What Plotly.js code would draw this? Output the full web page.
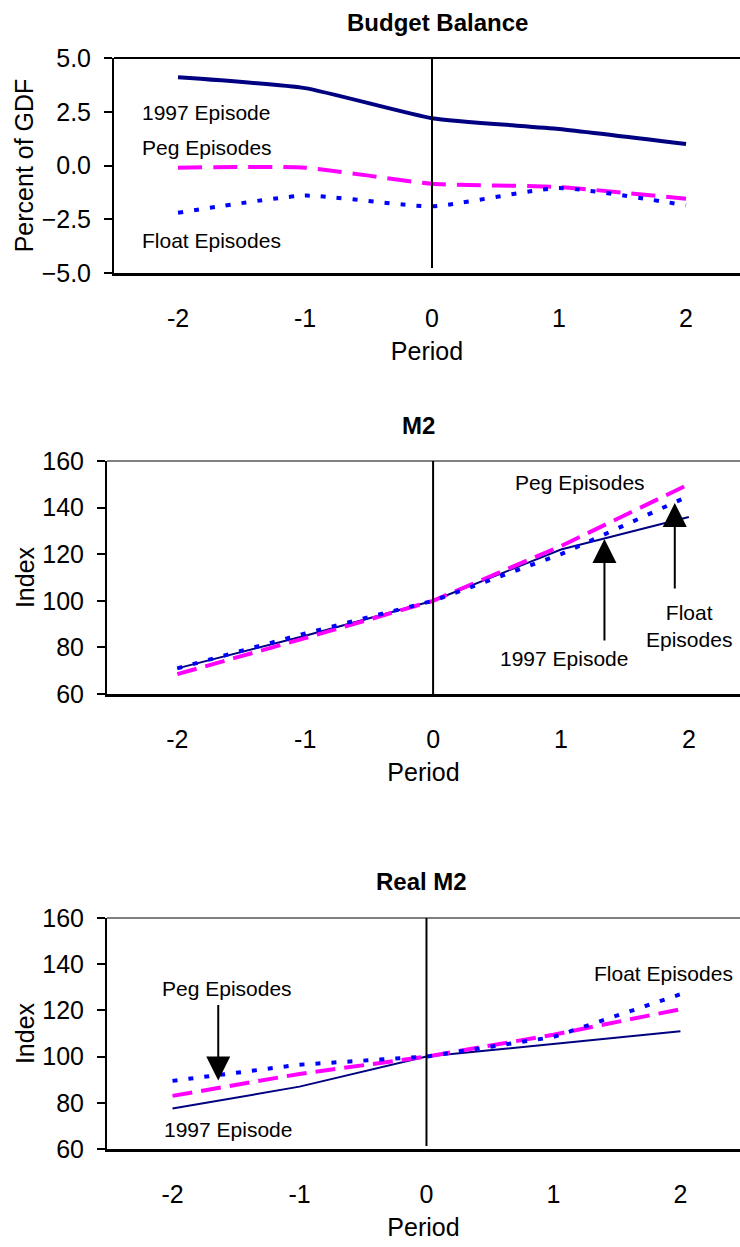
<!DOCTYPE html>
<html>
<head>
<meta charset="utf-8">
<script src="https://cdn.plot.ly/plotly-3.0.1.min.js"></script>
<style>html,body{margin:0;padding:0;background:#fff;}#chart{width:740px;height:1247px;}</style>
</head>
<body>
<div id="chart"></div>
<script>
// ---- data ----
const periods = [-2, -1, 0, 1, 2];
const periodLabels = ["-2", "-1", "0", "1", "2"];
const seriesNames = ["1997 Episode", "Peg Episodes", "Float Episodes"];

const budget1997 = [4.1, 3.6, 2.2, 1.7, 1.0];
const budgetPeg = [-0.1, -0.1, -0.85, -1.0, -1.55];
const budgetFloat = [-2.2, -1.4, -1.9, -1.05, -1.85];

const m2_1997 = [71, 85, 100, 122, 136];
const m2Peg = [68.5, 84, 100, 123.5, 150];
const m2Float = [71, 86, 100, 120, 145];

const realM2_1997 = [77.5, 87, 100, 105.5, 111];
const realM2Peg = [83, 92.5, 100, 109.5, 120.5];
const realM2Float = [89.5, 96.5, 100, 108.5, 127];

const budgetTicks = [-5, -2.5, 0, 2.5, 5];
const indexTicks = [60, 80, 100, 120, 140, 160];

// ---- styling ----
const W = 740, H = 1247;
const FONT = "Liberation Sans, Arial, sans-serif";
const NAVY = "#000080", MAGENTA = "#FF00FF", BLUE = "#0000FF";
const px = v => v / W;
const py = v => 1 - v / H;

function traces(xa, ya, s97, sPeg, sFloat, thick, spline) {
  const shape = spline ? "spline" : "linear";
  return [
    {x: periods, y: s97, xaxis: xa, yaxis: ya, type: "scatter", mode: "lines", name: seriesNames[0],
     line: {color: NAVY, width: thick ? 4 : 2, shape: shape, smoothing: 0.5}},
    {x: periods, y: sPeg, xaxis: xa, yaxis: ya, type: "scatter", mode: "lines", name: seriesNames[1],
     line: {color: MAGENTA, width: 4, dash: thick ? "24px,11px" : "20px,9px", shape: shape, smoothing: 0.5}},
    {x: periods, y: sFloat, xaxis: xa, yaxis: ya, type: "scatter", mode: "lines", name: seriesNames[2],
     line: {color: BLUE, width: 4, dash: "5px,11px", shape: shape, smoothing: 0.5}}
  ];
}

const data = [].concat(
  traces("x", "y", budget1997, budgetPeg, budgetFloat, true, true),
  traces("x2", "y2", m2_1997, m2Peg, m2Float, false, false),
  traces("x3", "y3", realM2_1997, realM2Peg, realM2Float, false, false)
);

function xaxis(domainLeft, range, anchor) {
  return {
    domain: [domainLeft, 1], range: range, anchor: anchor,
    tickvals: periods, ticktext: periodLabels,
    showgrid: false, zeroline: false,
    showline: true, linecolor: "#000", linewidth: 2.5,
    ticks: "", ticklabelstandoff: 21,
    tickfont: {family: FONT, size: 25, color: "#000"},
    title: {text: "Period", font: {family: FONT, size: 25, color: "#000"}, standoff: 12},
    fixedrange: true
  };
}
function yaxis(domain, range, tickvals, fmt, title, anchor) {
  return {
    domain: domain, range: range, anchor: anchor,
    tickvals: tickvals, tickformat: fmt,
    showgrid: false, zeroline: false,
    showline: true, linecolor: "#000", linewidth: 2,
    ticks: "outside", ticklen: 8, tickwidth: 2, tickcolor: "#000",
    ticklabelstandoff: 8,
    tickfont: {family: FONT, size: 25, color: "#000"},
    title: {text: title, font: {family: FONT, size: 25, color: "#000"}, standoff: 1},
    fixedrange: true
  };
}

function label(text, x, y, size, xanchor, bold) {
  return {text: bold ? "<b>" + text + "</b>" : text, xref: "paper", yref: "paper",
          x: px(x), y: py(y), xanchor: xanchor || "center", yanchor: "middle", showarrow: false,
          font: {family: FONT, size: size, color: "#000"}};
}
function arrow(xa, ya, x, y, ay) {
  return {x: x, y: y, xref: xa, yref: ya, text: "", showarrow: true, ax: 0, ay: ay,
          arrowhead: 2, arrowwidth: 2, arrowsize: 2.4, arrowcolor: "#000", standoff: 0};
}

const layout = {
  width: W, height: H,
  margin: {l: 0, r: 0, t: 0, b: 0},
  paper_bgcolor: "#fff", plot_bgcolor: "#fff",
  showlegend: false,
  xaxis: xaxis(px(114), [-2.504, 2.425], "y"),
  yaxis: yaxis([py(273), py(58)], [-5, 5], budgetTicks, ".1f", "Percent of GDF", "x"),
  xaxis2: xaxis(px(107), [-2.55, 2.40], "y2"),
  yaxis2: yaxis([py(694), py(461)], [60, 160], indexTicks, "d", "Index", "x2"),
  xaxis3: xaxis(px(107), [-2.516, 2.469], "y3"),
  yaxis3: yaxis([py(1149), py(918)], [60, 160], indexTicks, "d", "Index", "x3"),
  shapes: [
    // top borders
    {type: "line", xref: "x domain", yref: "y domain", x0: 0, x1: 1, y0: 1, y1: 1, line: {color: "#000", width: 2}},
    {type: "line", xref: "x2 domain", yref: "y2 domain", x0: 0, x1: 1, y0: 1, y1: 1, line: {color: "#808080", width: 2}},
    {type: "line", xref: "x3 domain", yref: "y3 domain", x0: 0, x1: 1, y0: 1, y1: 1, line: {color: "#808080", width: 2}},
    // vertical lines at period 0
    {type: "line", xref: "x", yref: "y", x0: 0, x1: 0, y0: -4.77, y1: 5.09, line: {color: "#000", width: 2}},
    {type: "line", xref: "x2", yref: "y2", x0: 0, x1: 0, y0: 58.7, y1: 160, line: {color: "#000", width: 2}},
    {type: "line", xref: "x3", yref: "y3", x0: 0, x1: 0, y0: 61.3, y1: 162, line: {color: "#000", width: 2}}
  ],
  annotations: [
    // chart titles
    label("Budget Balance", 438, 22, 24, "center", true),
    label("M2", 418, 425, 24, "center", true),
    label("Real M2", 422, 881, 24, "center", true),
    // budget labels
    label(seriesNames[0], 140, 113, 21, "left"),
    label(seriesNames[1], 140, 148, 21, "left"),
    label(seriesNames[2], 140, 240, 21, "left"),
    // M2 labels
    label(seriesNames[1], 580, 483, 21),
    label(seriesNames[0], 564, 659, 21),
    label("Float<br>Episodes", 689, 626, 21),
    arrow("x2", "y2", 1.34, 126.5, 103),
    arrow("x2", "y2", 1.89, 142, 87),
    // Real M2 labels
    label(seriesNames[1], 227, 988, 21),
    label(seriesNames[0], 228, 1129, 21),
    label(seriesNames[2], 663, 973, 21),
    arrow("x3", "y3", -1.64, 89.6, -77)
  ]
};

Plotly.newPlot("chart", data, layout, {staticPlot: true, displayModeBar: false});
</script>
</body>
</html>
